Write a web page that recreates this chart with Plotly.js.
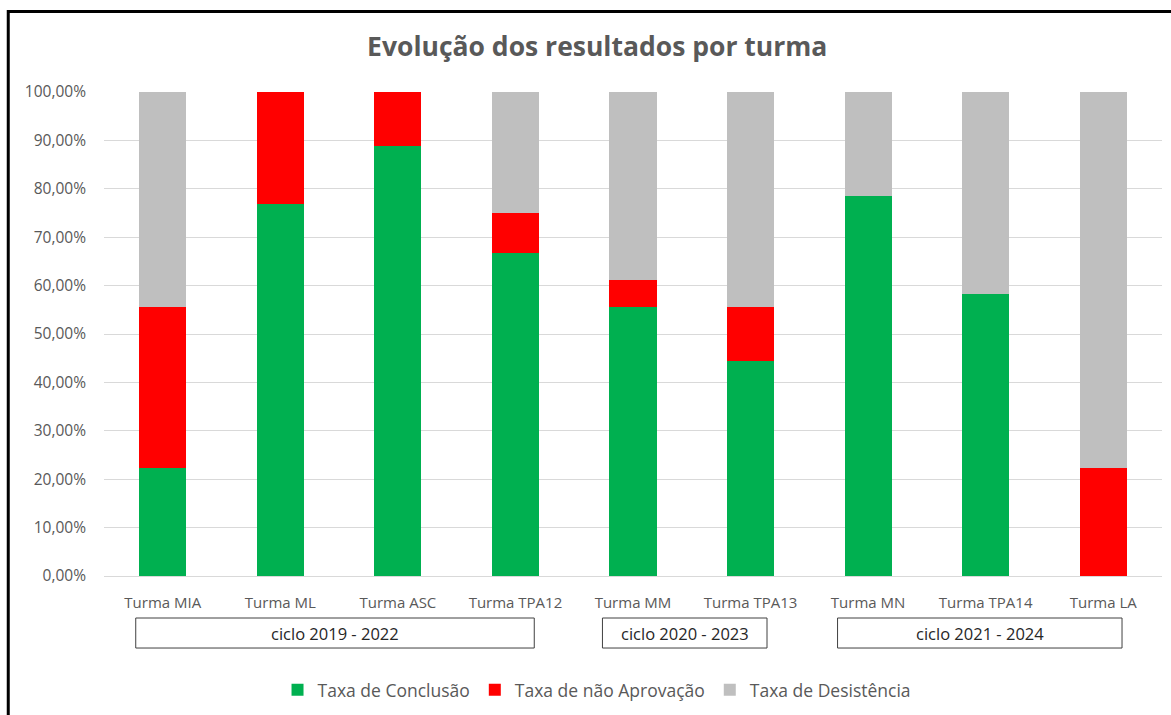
<!DOCTYPE html>
<html><head><meta charset="utf-8">
<script src="https://cdn.plot.ly/plotly-3.0.1.min.js"></script>
<style>html,body{margin:0;padding:0;background:#fff;}#chart{width:1171px;height:715px;}</style>
</head><body><div id="chart"></div>
<script>
const categories = ["Turma MIA","Turma ML","Turma ASC","Turma TPA12","Turma MM","Turma TPA13","Turma MN","Turma TPA14","Turma LA"];
const conclusao   = [0.2222,0.7692,0.8889,0.6667,0.5556,0.4444,0.7857,0.5833,0.0];
const naoAprovacao= [0.3333,0.2308,0.1111,0.0833,0.0556,0.1111,0.0,0.0,0.2222];
const desistencia = [0.4444,0.0,0.0,0.25,0.3889,0.4444,0.2143,0.4167,0.7778];
const cycleLabels = ["ciclo 2019 - 2022","ciclo 2020 - 2023","ciclo 2021 - 2024"];
const cycleStart  = [-0.23,3.74,5.74];
const cycleEnd    = [3.16,5.14,8.16];

const FONT = "'Open Sans', sans-serif";
const gray = "#595959";
const traces = [
  {name:"Taxa de Conclusão", y:conclusao, color:"#00B050"},
  {name:"Taxa de não Aprovação", y:naoAprovacao, color:"#FF0000"},
  {name:"Taxa de Desistência", y:desistencia, color:"#BFBFBF"}
].map(t => ({type:"bar", x:categories, y:t.y, name:t.name, marker:{color:t.color}, hoverinfo:"x+y+name"}));

const shapes = [{type:"rect", xref:"paper", yref:"paper", x0:-0.0905, x1:1.05, y0:-0.4, y1:1.1665, line:{color:"#000", width:3}, fillcolor:"rgba(0,0,0,0)", layer:"above"}];
const annotations = [];
cycleLabels.forEach((lab,i)=>{
  shapes.push({type:"rect", xref:"x", yref:"paper", x0:cycleStart[i], x1:cycleEnd[i], y0:-0.1488, y1:-0.0868, line:{color:"#404040", width:1}, fillcolor:"rgba(0,0,0,0)"});
  annotations.push({xref:"x", yref:"paper", x:(cycleStart[i]+cycleEnd[i])/2, y:-0.1178, text:lab, showarrow:false, font:{family:FONT, size:16.5, color:"#262626"}, xanchor:"center", yanchor:"middle"});
});

const layout = {
  width:1171, height:715,
  margin:{l:104, r:9, t:92, b:139, autoexpand:false},
  barmode:"stack", bargap:0.6,
  separators:",.",
  paper_bgcolor:"#fff", plot_bgcolor:"#fff",
  font:{family:FONT, size:14, color:gray},
  title:{text:"<b>Evolução dos resultados por turma</b>", font:{family:FONT, size:26.5, color:gray}, xref:"container", x:0.51, xanchor:"center", y:0.934, yanchor:"middle", yref:"container"},
  xaxis:{type:"category", automargin:false, showgrid:false, showline:true, linecolor:"#D9D9D9", linewidth:1, ticks:"", ticklabelstandoff:13, tickfont:{family:FONT, size:15, color:gray}},
  yaxis:{range:[0,1], automargin:false, tickvals:[0,0.1,0.2,0.3,0.4,0.5,0.6,0.7,0.8,0.9,1], tickformat:".2%", gridcolor:"#D9D9D9", gridwidth:1, zeroline:false, showline:false, ticks:"", ticklabelstandoff:17, tickfont:{family:FONT, size:15.5, color:gray}},
  legend:{orientation:"h", xref:"container", x:0.237, xanchor:"left", yref:"container", y:0.035, yanchor:"middle", font:{family:FONT, size:17.5, color:gray}, traceorder:"normal"},
  shapes:shapes, annotations:annotations, showlegend:true
};
Plotly.newPlot("chart", traces, layout, {displayModeBar:false, staticPlot:true});
</script></body></html>
